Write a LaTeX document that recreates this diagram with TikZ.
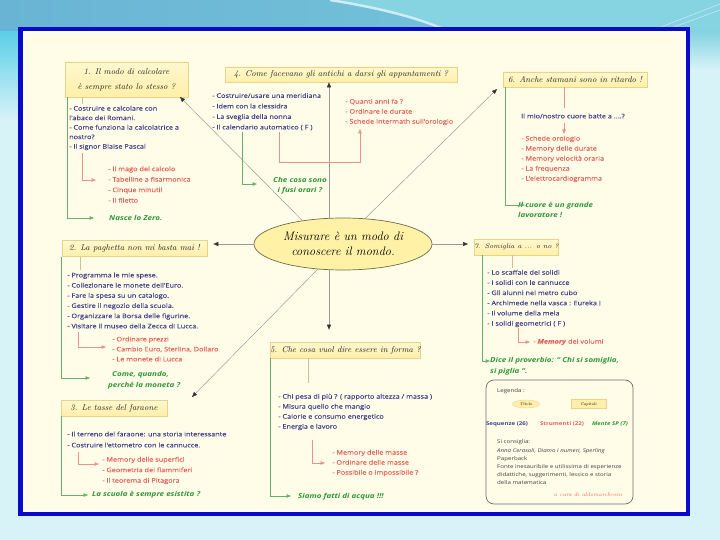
\documentclass[tikz,border=0pt]{standalone}
\usepackage{fontspec}
\newfontfamily\bodyf[FakeStretch=1.18,FakeBold=0.12]{Open Sans}
\newfontfamily\greenf[FakeStretch=1.18]{Open Sans}
\usetikzlibrary{shapes.geometric,arrows.meta}
\definecolor{bgcyan}{HTML}{D8F3F8}
\definecolor{topl}{HTML}{69B4D4}
\definecolor{topr}{HTML}{78C8DC}
\definecolor{swoosh}{HTML}{86D3E2}
\definecolor{leftcy}{HTML}{5CCFE8}
\definecolor{frameblue}{HTML}{0A0AC8}
\definecolor{cream}{HTML}{FFFDE8}
\definecolor{bluetxt}{HTML}{42428F}
\definecolor{redtxt}{HTML}{E2625C}
\definecolor{greentxt}{HTML}{2F963A}
\definecolor{boxtop}{HTML}{FFF8CF}
\definecolor{boxbot}{HTML}{FFEFA8}
\definecolor{boxline}{HTML}{E6D38C}
\definecolor{ellfill}{HTML}{FFF2A6}
\definecolor{ellline}{HTML}{6E6E4E}
\definecolor{greyline}{HTML}{9A9A9A}
\definecolor{greenline}{HTML}{6AAE6A}
\definecolor{redline}{HTML}{E8928C}
\definecolor{tanline}{HTML}{D9BC96}
\definecolor{legline}{HTML}{6E6E6E}
\begin{document}
\begin{tikzpicture}[x=1pt,y=-1pt,
  titlebox/.style={draw=boxline, line width=0.6pt, top color=boxtop, bottom color=boxbot,
    inner sep=0pt, align=center, text=black!85, font=\fontsize{8.5}{15}\selectfont\itshape},
  bluet/.style={anchor=west, inner sep=0pt, align=left, text=bluetxt, font=\bodyf\fontsize{6.2}{#1}\selectfont},
  bluet/.default=10.2,
  redt/.style={anchor=west, inner sep=0pt, align=left, text=redtxt, font=\bodyf\fontsize{6.2}{#1}\selectfont},
  redt/.default=10,
  greent/.style={anchor=west, inner sep=0pt, align=left, text=greentxt, font=\greenf\bfseries\itshape\fontsize{6.8}{#1}\selectfont},
  greent/.default=10.5,
  mainline/.style={draw=greyline, line width=0.5pt, -{Triangle[length=5pt,width=4pt,color=black!80]}},
  greenc/.style={draw=greenline, line width=0.5pt, -{Triangle[length=4.5pt,width=3.5pt]}},
  redc/.style={draw=redline, line width=0.5pt, -{Triangle[length=4.5pt,width=3.5pt]}},
  tanc/.style={draw=tanline, line width=0.5pt},
  legt/.style={anchor=west, inner sep=0pt, align=left, text=black!75, font=\greenf\fontsize{5.2}{#1}\selectfont},
  legt/.default=8.2
]
\useasboundingbox (0,0) rectangle (720,540);
% ---------- background ----------
\fill[bgcyan] (0,0) rectangle (720,540);
\shade[left color=topl, right color=topr] (0,0) rectangle (720,32);
\fill[swoosh] (330,0) .. controls (380,8) and (420,18) .. (450,32) -- (720,32) -- (720,0) -- cycle;
\draw[white!60!swoosh, line width=2.5pt] (330,0) .. controls (380,8) and (420,18) .. (450,32);
\shade[top color=leftcy, bottom color=bgcyan] (0,32) rectangle (18,120);
\shade[top color=swoosh, bottom color=bgcyan] (690,32) rectangle (720,70);
\draw[white!50!swoosh, line width=0.6pt] (648,32) -- (720,4);
\draw[white!50!swoosh, line width=0.6pt] (660,32) -- (720,10);
% ---------- frame ----------
\draw[frameblue, line width=4.5pt] (20.25,29.25) rectangle (687.75,513.75);
\draw[white, line width=2pt, fill=cream] (23.5,32.5) rectangle (684.5,510.5);
% ---------- central ellipse ----------
\node[ellipse, draw=ellline, line width=0.7pt, fill=ellfill, minimum width=178pt, minimum height=52pt,
  inner sep=0pt, align=center, font=\fontsize{12.3}{15}\selectfont\itshape] (ell) at (343,244)
  {Misurare è un modo di\\conoscere il mondo.};
% ---------- title boxes ----------
\node[titlebox, minimum width=123pt, minimum height=35pt] (b1) at (126.5,79.5) {1. Il modo di calcolare\\è sempre stato lo stesso ?};
\node[titlebox, minimum width=232pt, minimum height=15pt] (b4) at (341,74.5) {4. Come facevano gli antichi a darsi gli appuntamenti ?};
\node[titlebox, minimum width=144pt, minimum height=15pt] (b6) at (575,79.5) {6. Anche stamani sono in ritardo !};
\node[titlebox, minimum width=145pt, minimum height=16pt] (b2) at (134.5,248.5) {2. La paghetta non mi basta mai !};
\node[titlebox, minimum width=77pt, minimum height=16pt, font=\fontsize{6.8}{9}\selectfont\itshape] (b7) at (516.5,247) {7. Somiglia a ... o no ?};
\node[titlebox, minimum width=147pt, minimum height=16pt] (b5) at (345.5,350) {5. Che cosa vuol dire essere in forma ?};
\node[titlebox, minimum width=106pt, minimum height=16pt] (b3) at (114,408) {3. Le tasse del faraone};
% ---------- main connectors ----------
\coordinate (d1) at (180,97);
\coordinate (d6) at (497,89);
\coordinate (d3) at (192,397);
\draw[mainline] ([xshift=-14pt]ell.north) -- ([xshift=-12pt]b4.south);
\draw[mainline, shorten >=12pt] ([xshift=-14pt]ell.south) -- ([xshift=-16.5pt]b5.north);
\draw[mainline] (ell.west) -- ([xshift=6pt]ell.west -| b2.east);
\draw[mainline] (ell.east) -- ([xshift=-6pt]ell.east -| b7.west);
\draw[mainline] (ell.150) -- (d1);
\draw[mainline] (ell.49) -- (d6);
\draw[mainline] (ell.225) -- (d3);
% ---------- cluster 1 ----------
\node[bluet=9.5] (t1) at (69,128) {- Costruire e calcolare con\\l'abaco dei Romani.\\- Come funziona la calcolatrice a\\nostro?\\- Il signor Blaise Pascal};
\node[redt=10.5] (r1) at (108,184.5) {- Il mago del calcolo\\- Tabelline a fisarmonica\\- Cinque minuti!\\- Il filetto};
\node[greent] (g1) at (109,218) {Nasce lo Zero.};
\coordinate (c1a) at (82,97); \coordinate (c1b) at (82,104);
\coordinate (c1c) at (82,153); \coordinate (c1d) at (96,180);
\coordinate (c1e) at (67,97); \coordinate (c1f) at (94,218);
\draw[tanc] (c1a) -- (c1b);
\draw[redc] (c1c) |- (c1d);
\draw[greenc] (c1e) |- (c1f);
% ---------- cluster 4 ----------
\node[bluet=10.5] (t4) at (212,111.75) {- Costruire/usare una meridiana\\- Idem con la clessidra\\- La sveglia della nonna\\- Il calendario automatico ( F )};
\node[redt] (r4) at (345,112) {- Quanti anni fa ?\\- Ordinare le durate\\- Schede Intermath sull'orologio};
\node[greent=9.5, align=center, anchor=center] (g4) at (300,185.5) {Che cosa sono\\i fusi orari ?};
\coordinate (c4a) at (279,132); \coordinate (c4b) at (279,162);
\coordinate (c4c) at (360,162); \coordinate (c4d) at (360,129);
\coordinate (c4e) at (242,132); \coordinate (c4f) at (257,184);
\draw[redc] (c4a) -- (c4b) -- (c4c) -- (c4d);
\draw[greenc] (c4e) |- (c4f);
% ---------- cluster 6 ----------
\node[bluet] (t6) at (521,116) {Il mio/nostro cuore batte a ....?};
\node[redt] (r6) at (521,159) {- Schede orologio\\- Memory delle durate\\- Memory  velocità oraria\\- La frequenza\\- L'elettrocardiogramma};
\node[greent] (g6) at (518,210) {Il cuore è un grande\\lavoratore !};
\coordinate (c6a) at (564,87); \coordinate (c6b) at (564,108);
\coordinate (c6c) at (564,123); \coordinate (c6d) at (564,134);
\coordinate (c6e) at (505,87); \coordinate (c6f) at (525,205);
\draw[redline, line width=0.5pt] (c6a) -- (c6b);
\draw[redc] (c6c) -- (c6d);
\draw[greenc] (c6e) |- (c6f);
% ---------- cluster 2 ----------
\node[bluet] (t2) at (67,300.5) {- Programma le mie spese.\\- Collezionare  le monete dell'Euro.\\- Fare la spesa su un catalogo.\\- Gestire il negozio della scuola.\\- Organizzare la Borsa delle figurine.\\- Visitare il museo della Zecca di Lucca.};
\node[redt] (r2) at (112,349) {- Ordinare prezzi\\- Cambio Euro, Sterlina, Dollaro\\- Le monete di Lucca};
\node[greent=11] (g2) at (108,380.5) {\hspace*{4pt}Come, quando,\\perché la moneta ?};
\coordinate (c2a) at (80,256.5); \coordinate (c2b) at (80,270);
\coordinate (c2c) at (78,332); \coordinate (c2d) at (106,347);
\coordinate (c2e) at (61,256.5); \coordinate (c2f) at (90,378);
\draw[tanc] (c2a) -- (c2b);
\draw[redc] (c2c) |- (c2d);
\draw[greenc] (c2e) |- (c2f);
% ---------- cluster 3 ----------
\node[bluet=11] (t3) at (67,439.5) {- Il terreno del faraone: una storia interessante\\- Costruire l'ettometro con le cannucce.};
\node[redt=10.5] (r3) at (102,470.5) {- Memory delle superfici\\- Geometria dei fiammiferi\\- Il teorema di Pitagora};
\node[greent] (g3) at (92,495) {La scuola è sempre  esistita  ?};
\coordinate (c3a) at (78,452); \coordinate (c3b) at (99,464);
\coordinate (c3c) at (61,416); \coordinate (c3d) at (88,495);
\draw[redc] (c3a) |- (c3b);
\draw[greenc] (c3c) |- (c3d);
% ---------- cluster 5 ----------
\node[bluet=10] (t5) at (278,412) {- Chi pesa di più  ?  ( rapporto altezza / massa )\\- Misura quello che mangio\\- Calorie e consumo energetico\\- Energia e lavoro};
\node[redt] (r5) at (332,463) {- Memory delle masse\\- Ordinare delle masse\\- Possibile o impossibile ?};
\node[greent] (g5) at (298,497) {Siamo fatti di acqua !!!};
\coordinate (c5a) at (308,358); \coordinate (c5b) at (308,383);
\coordinate (c5c) at (312,440); \coordinate (c5d) at (325,463);
\coordinate (c5e) at (270,358); \coordinate (c5f) at (291,496);
\draw[tanc] (c5a) -- (c5b);
\draw[redc] (c5c) |- (c5d);
\draw[greenc] (c5e) |- (c5f);
% ---------- cluster 7 ----------
\node[bluet] (t7) at (487,298.5) {- Lo scaffale dei solidi\\- I solidi con le cannucce\\- Gli alunni nel metro cubo\\- Archimede nella vasca : Eureka !\\- Il volume della mela\\- I solidi geometrici ( F )};
\node[redt] (r7) at (533,342) {- \textbf{\itshape Memory} dei volumi};
\node[greent] (g7) at (490,366) {Dice il proverbio: “ Chi si somiglia,\\si piglia ”.};
\coordinate (c7a) at (512,255); \coordinate (c7b) at (512,268);
\coordinate (c7c) at (518,328); \coordinate (c7d) at (530,342);
\coordinate (c7e) at (482,255); \coordinate (c7f) at (490,361);
\draw[tanc] (c7a) -- (c7b);
\draw[redc] (c7c) |- (c7d);
\draw[greenc] (c7e) |- (c7f);
% ---------- legend ----------
\node[draw=legline, line width=0.7pt, fill=cream, rounded corners=8pt, minimum width=147pt, minimum height=124pt, inner sep=0pt] (leg) at (559.5,442) {};
\node[legt] (lg1) at (497,391) {Legenda :};
\node[ellipse, draw=boxline, fill=boxbot, minimum width=27pt, minimum height=8pt, inner sep=0pt, font=\fontsize{4}{5}\selectfont\itshape] (lgell) at (526,404) {Titolo};
\node[draw=boxline, fill=boxbot, minimum width=35pt, minimum height=9pt, inner sep=0pt, font=\fontsize{4}{5}\selectfont\itshape] (lgbox) at (588.5,404) {Capitoli};
\node[inner sep=0pt, text=bluetxt, font=\greenf\bfseries\fontsize{5.2}{6}\selectfont] (lgs) at (507,424) {Sequenze (26)};
\node[inner sep=0pt, text=redtxt, font=\greenf\bfseries\fontsize{5.2}{6}\selectfont] (lgr) at (562,424) {Strumenti (22)};
\node[inner sep=0pt, text=greentxt, font=\greenf\bfseries\itshape\fontsize{5.2}{6}\selectfont] (lgg) at (610,424) {Mente SP (7)};
\node[legt] (lgtext) at (497,462.5) {Si consiglia:\\\textit{Anna Cerasoli, Diamo i numeri, Sperling}\\Paperback\\Fonte inesauribile e utilissima di esperienze\\didattiche, suggerimenti, lessico e storia\\della matematica};
\node[inner sep=0pt, text=redtxt, font=\fontsize{5.5}{6}\selectfont\itshape] (lgcura) at (588,495) {a cura di aldomarchesin};
\end{tikzpicture}
\end{document}
